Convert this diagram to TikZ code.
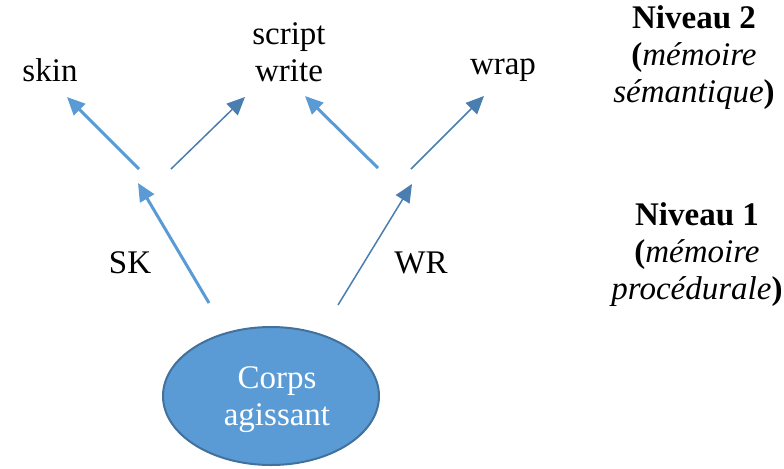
\documentclass[tikz,border=0pt]{standalone}
\usepackage{fontspec}
\setmainfont{Liberation Serif}
\usetikzlibrary{arrows.meta,shapes.geometric}
\definecolor{lightblue}{HTML}{5B9BD5}
\definecolor{darkblue}{HTML}{4A7EB0}
\definecolor{edgeblue}{HTML}{41719C}
\tikzset{
	mot/.style={font=\fontsize{16.5}{18.5}\selectfont,align=center,inner sep=0pt},
	fort/.style={draw=lightblue,line width=1.5pt,-{Triangle[length=9pt,width=8pt]}},
	fin/.style={draw=darkblue!80,line width=0.75pt,-{Triangle[length=9pt,width=8pt]},color=darkblue}
}
\begin{document}
\begin{tikzpicture}[x=0.5pt,y=-0.5pt]
				\useasboundingbox (0,0) rectangle (784,468);
				\node[ellipse,draw=edgeblue,line width=1pt,fill=lightblue,minimum width=108pt,minimum height=69pt,inner sep=0pt] (corps) at (271,396) {};
				\node[mot,text=white] (corpslabel) at (277,400) {Corps\\agissant};
				\node[mot] (skin) at (50,70) {skin};
				\node[mot] (write) at (289,52) {script\\write};
				\node[mot] (wrap) at (503,70) {wrap};
				\node[mot] (sk) at (130,263) {SK};
				\node[mot] (wr) at (421,263) {WR};
				\node[mot] (niv2) at (694,58) {\textbf{Niveau 2}\\\textbf{(}\textit{mémoire}\\\textit{sémantique}\textbf{)}};
				\node[mot] (niv1) at (697,255) {\textbf{Niveau 1}\\\textbf{(}\textit{mémoire}\\\textit{procédurale}\textbf{)}};
				\coordinate (skbas) at (209,303);
				\coordinate (skhaut) at (138,183);
				\coordinate (wrbas) at (338,305);
				\coordinate (wrhaut) at (412,184);
				\coordinate (sa) at (139,169);
				\coordinate (sb) at (171,169);
				\coordinate (wa) at (378,168);
				\coordinate (wb) at (411,169);
				\coordinate (skinpt) at (67,97);
				\coordinate (writept) at (245,97);
				\coordinate (writept2) at (305,96);
				\coordinate (wrappt) at (484,96);
				\draw[fort] (skbas) -- (skhaut);
				\draw[fin] (wrbas) -- (wrhaut);
				\draw[fort] (sa) -- (skinpt);
				\draw[fin] (sb) -- (writept);
				\draw[fort] (wa) -- (writept2);
				\draw[fin] (wb) -- (wrappt);
			\end{tikzpicture}
\end{document}
